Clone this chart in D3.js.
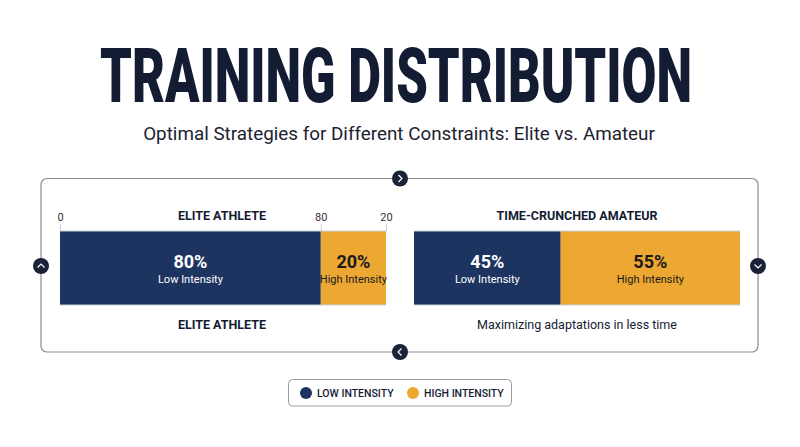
<!DOCTYPE html>
<html><head><meta charset="utf-8">
<script src="https://cdn.jsdelivr.net/npm/d3@7"></script>
<style>body{margin:0;background:#fff}svg{display:block}</style>
</head><body>
<svg id="c" width="800" height="447"></svg>
<script>
const titleText = "TRAINING DISTRIBUTION";
const subtitleText = "Optimal Strategies for Different Constraints: Elite vs. Amateur";
const groups = ["ELITE ATHLETE", "TIME-CRUNCHED AMATEUR"];
const captions = ["ELITE ATHLETE", "Maximizing adaptations in less time"];
const lowValues = [80, 45];
const highValues = [20, 55];
const seriesNames = ["Low Intensity", "High Intensity"];
const legendLabels = ["LOW INTENSITY", "HIGH INTENSITY"];
const eliteTickValues = [0, 80, 100];
const eliteTickLabels = ["0", "80", "20"];

const NAVY = "#1d3461", ORANGE = "#eca832", DARK = "#1a2238";
const svg = d3.select("#c");
const F = "Roboto, 'Noto Sans', sans-serif";

const tg = svg.append("g");
const tt = tg.append("text").attr("x", 0).attr("y", 0).attr("text-anchor", "middle")
  .attr("font-family", F).attr("font-weight", 900).attr("font-size", 76)
  .attr("fill", "#141c33").text(titleText);
const tw = tt.node().getComputedTextLength();
tg.attr("transform", `translate(396,102) scale(${592/tw},1)`);

const st = svg.append("g");
const stt = st.append("text").attr("x", 0).attr("y", 0).attr("text-anchor", "middle")
  .attr("font-family", F).attr("font-size", 19).attr("fill", "#1c2230")
  .text(subtitleText);
const sw = stt.node().getComputedTextLength();
st.attr("transform", `translate(399,140) scale(${512/sw},1)`);

// panel
svg.append("rect").attr("x", 41).attr("y", 178.5).attr("width", 717).attr("height", 173.5)
  .attr("rx", 6).attr("fill", "none").attr("stroke", "#8a8d93").attr("stroke-width", 1.2);

const btns = [[400,178.5,"right"],[41,266,"up"],[758,266,"down"],[400,352,"left"]];
btns.forEach(([cx,cy,dir])=>{
  svg.append("circle").attr("cx",cx).attr("cy",cy).attr("r",8).attr("fill",DARK);
  let p;
  if(dir==="right") p=`M${cx-1.5},${cy-3.5}L${cx+2},${cy}L${cx-1.5},${cy+3.5}`;
  if(dir==="left") p=`M${cx+1.5},${cy-3.5}L${cx-2},${cy}L${cx+1.5},${cy+3.5}`;
  if(dir==="up") p=`M${cx-3.5},${cy+1.5}L${cx},${cy-2}L${cx+3.5},${cy+1.5}`;
  if(dir==="down") p=`M${cx-3.5},${cy-1.5}L${cx},${cy+2}L${cx+3.5},${cy-1.5}`;
  svg.append("path").attr("d",p).attr("fill","none").attr("stroke","#fff").attr("stroke-width",1.2);
});

const panels = [{x0:60,x1:386},{x0:414,x1:740}];
const barY = 231, barH = 74;
panels.forEach((pn,i)=>{
  const x = d3.scaleLinear().domain([0,100]).range([pn.x0,pn.x1]);
  const cx = (pn.x0+pn.x1)/2 + (i===0? -1 : 0);
  const g = svg.append("g");
  const segs = [
    {name:seriesNames[0], v:lowValues[i], start:0, fill:NAVY, tc:"#fff"},
    {name:seriesNames[1], v:highValues[i], start:lowValues[i], fill:ORANGE, tc:"#1a1a1a"}
  ];
  g.selectAll("rect.seg").data(segs).join("rect").attr("class","seg")
    .attr("x",d=>x(d.start)).attr("y",barY).attr("width",d=>x(d.start+d.v)-x(d.start))
    .attr("height",barH).attr("fill",d=>d.fill);
  g.append("line").attr("x1",pn.x0).attr("x2",pn.x1).attr("y1",barY).attr("y2",barY)
    .attr("stroke","#c9d0dc").attr("stroke-width",1);
  g.append("line").attr("x1",pn.x0).attr("x2",pn.x1).attr("y1",barY+barH).attr("y2",barY+barH)
    .attr("stroke","#c9d0dc").attr("stroke-width",1);
  segs.forEach(d=>{
    const mx = (x(d.start)+x(d.start+d.v))/2;
    g.append("text").attr("x",mx).attr("y",268).attr("text-anchor","middle")
      .attr("font-family",F).attr("font-weight",700).attr("font-size",18).attr("fill",d.tc).text(d.v+"%");
    g.append("text").attr("x",mx).attr("y",282.5).attr("text-anchor","middle")
      .attr("font-family",F).attr("font-size",11).attr("fill",d.tc).text(d.name);
  });
  g.append("text").attr("x",cx).attr("y",220).attr("text-anchor","middle")
    .attr("font-family",F).attr("font-weight",700).attr("font-size",12.5).attr("fill","#141c33").text(groups[i]);
  g.append("text").attr("x",cx).attr("y",329).attr("text-anchor","middle")
    .attr("font-family",F).attr("font-weight",i===0?700:400).attr("font-size",12.5).attr("fill","#141c33").text(captions[i]);
  if(i===0){
    const ax = d3.axisTop(x).tickValues(eliteTickValues).tickSize(7).tickPadding(3)
      .tickFormat((d,k)=>eliteTickLabels[k]);
    const ag = g.append("g").attr("transform",`translate(0,${barY})`).call(ax);
    ag.select(".domain").remove();
    ag.selectAll("line").attr("stroke","#c9d0dc");
    ag.selectAll("text").attr("font-family",F).attr("font-size",11).attr("fill","#333");
  }
});

// legend
const lg = svg.append("g");
lg.append("rect").attr("x",288.5).attr("y",379.5).attr("width",223).attr("height",26.5).attr("rx",4)
  .attr("fill","#fff").attr("stroke","#9a9ca2").attr("stroke-width",1);
const lx = [306, 413];
legendLabels.forEach((t,k)=>{
  lg.append("circle").attr("cx",lx[k]).attr("cy",393).attr("r",6).attr("fill",k===0?NAVY:ORANGE);
  lg.append("text").attr("x",lx[k]+11).attr("y",397).attr("font-family",F).attr("font-weight",500)
    .attr("font-size",10.5).attr("fill","#141c33").text(t);
});
</script>
</body></html>
